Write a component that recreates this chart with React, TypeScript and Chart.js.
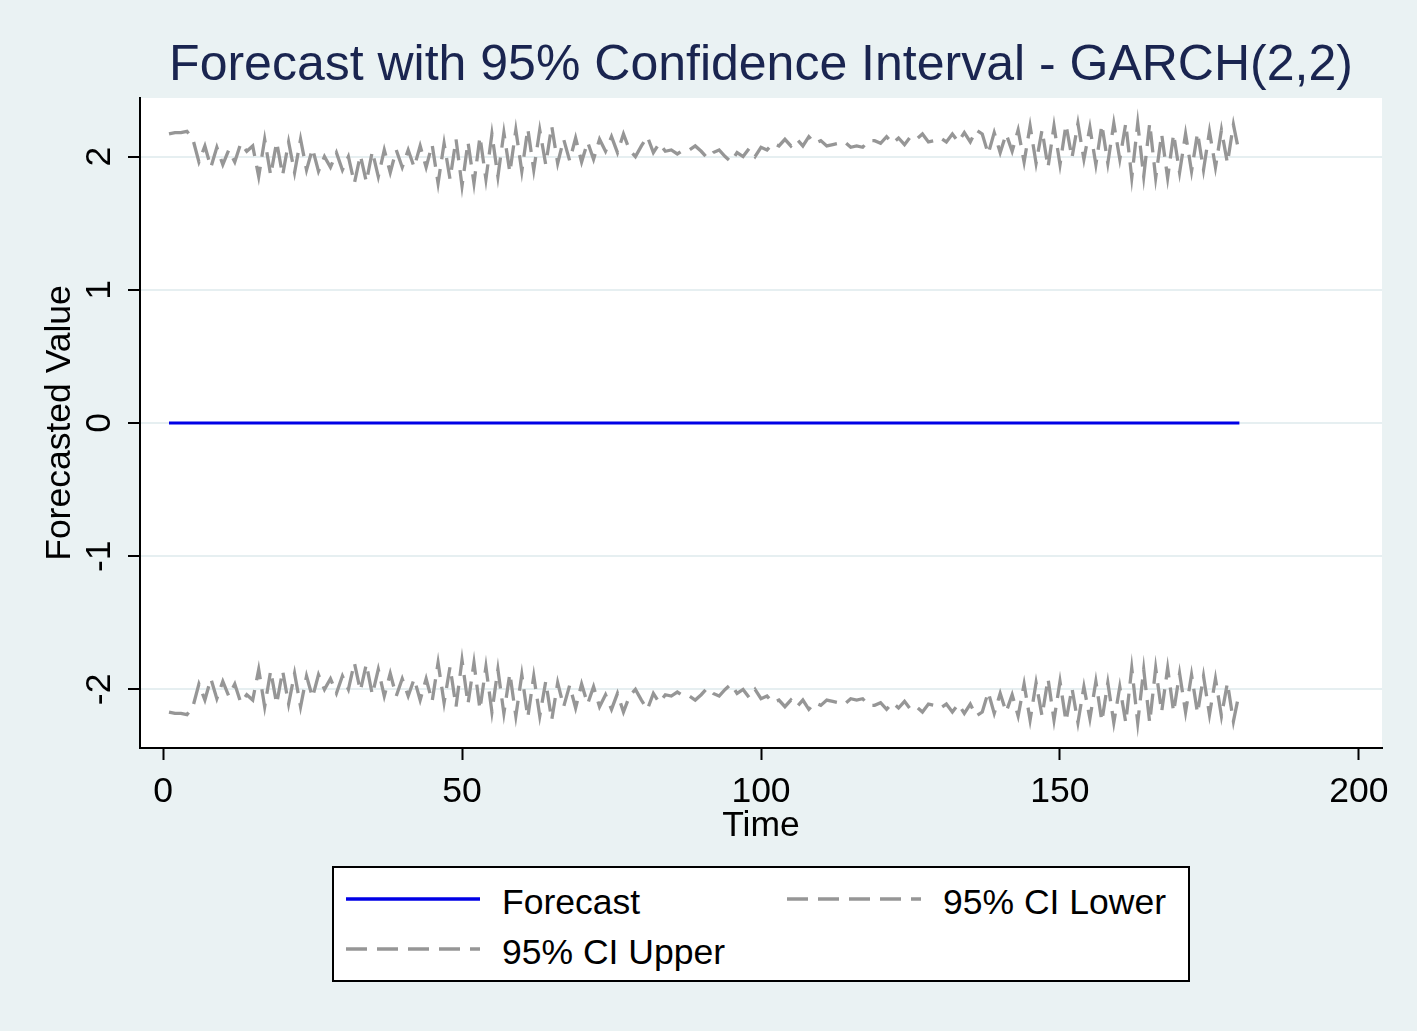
import React, { useEffect, useRef } from "react";
import { Chart, registerables } from "chart.js";

Chart.register(...registerables);

const FONT = "'Liberation Sans', Arial, Helvetica, sans-serif";
Chart.defaults.font.family = FONT;

// time index of the first forecast step
const firstStep = 1;

const forecast = [
  0, 0, 0, 0, 0, 0, 0, 0, 0, 0,
  0, 0, 0, 0, 0, 0, 0, 0, 0, 0,
  0, 0, 0, 0, 0, 0, 0, 0, 0, 0,
  0, 0, 0, 0, 0, 0, 0, 0, 0, 0,
  0, 0, 0, 0, 0, 0, 0, 0, 0, 0,
  0, 0, 0, 0, 0, 0, 0, 0, 0, 0,
  0, 0, 0, 0, 0, 0, 0, 0, 0, 0,
  0, 0, 0, 0, 0, 0, 0, 0, 0, 0,
  0, 0, 0, 0, 0, 0, 0, 0, 0, 0,
  0, 0, 0, 0, 0, 0, 0, 0, 0, 0,
  0, 0, 0, 0, 0, 0, 0, 0, 0, 0,
  0, 0, 0, 0, 0, 0, 0, 0, 0, 0,
  0, 0, 0, 0, 0, 0, 0, 0, 0, 0,
  0, 0, 0, 0, 0, 0, 0, 0, 0, 0,
  0, 0, 0, 0, 0, 0, 0, 0, 0, 0,
  0, 0, 0, 0, 0, 0, 0, 0, 0, 0,
  0, 0, 0, 0, 0, 0, 0, 0, 0, 0,
  0, 0, 0, 0, 0, 0, 0, 0, 0, 0,
];

const ciUpper = [
  2.17, 2.18, 2.18, 2.19, 2.13, 1.96, 2.08, 1.92, 2.07, 1.94,
  2.05, 1.96, 2.10, 2.04, 2.08, 1.85, 2.13, 1.86, 2.11, 1.86,
  2.11, 1.88, 2.13, 1.90, 2.06, 1.89, 2.00, 1.92, 2.03, 1.90,
  2.00, 1.80, 2.01, 1.81, 2.04, 1.85, 2.05, 1.88, 2.05, 1.92,
  2.05, 1.92, 2.08, 1.92, 2.09, 1.80, 2.10, 1.83, 2.13, 1.78,
  2.11, 1.80, 2.15, 1.83, 2.17, 1.85, 2.18, 1.88, 2.20, 1.89,
  2.21, 1.90, 2.20, 1.94, 2.23, 1.95, 2.13, 1.97, 2.14, 1.96,
  2.11, 1.98, 2.13, 2.04, 2.15, 2.03, 2.17, 2.05, 2.00, 2.08,
  2.15, 2.03, 2.10, 2.04, 2.05, 2.02, 2.05, 2.05, 2.08, 2.04,
  1.99, 2.03, 2.05, 2.00, 1.96, 2.03, 2.00, 2.06, 2.00, 2.07,
  2.05, 2.10, 2.08, 2.13, 2.08, 2.13, 2.08, 2.15, 2.10, 2.12,
  2.08, 2.09, 2.10, 2.11, 2.07, 2.08, 2.07, 2.12, 2.12, 2.10,
  2.15, 2.10, 2.14, 2.09, 2.15, 2.13, 2.17, 2.11, 2.12, 2.14,
  2.11, 2.17, 2.11, 2.18, 2.11, 2.20, 2.17, 2.02, 2.18, 2.03,
  2.17, 2.04, 2.20, 1.96, 2.23, 1.95, 2.20, 1.92, 2.23, 1.94,
  2.24, 1.99, 2.25, 1.98, 2.22, 1.94, 2.24, 1.95, 2.25, 1.98,
  2.25, 1.84, 2.25, 1.85, 2.25, 1.84, 2.17, 1.84, 2.17, 1.88,
  2.17, 1.89, 2.18, 1.90, 2.19, 1.92, 2.20, 1.95, 2.24, 2.02,
];

const ciLower = [
  -2.17, -2.18, -2.18, -2.19, -2.13, -1.96, -2.08, -1.92, -2.07, -1.94,
  -2.05, -1.96, -2.10, -2.04, -2.08, -1.85, -2.13, -1.86, -2.11, -1.86,
  -2.11, -1.88, -2.13, -1.90, -2.06, -1.89, -2.00, -1.92, -2.03, -1.90,
  -2.00, -1.80, -2.01, -1.81, -2.04, -1.85, -2.05, -1.88, -2.05, -1.92,
  -2.05, -1.92, -2.08, -1.92, -2.09, -1.80, -2.10, -1.83, -2.13, -1.78,
  -2.11, -1.80, -2.15, -1.83, -2.17, -1.85, -2.18, -1.88, -2.20, -1.89,
  -2.21, -1.90, -2.20, -1.94, -2.23, -1.95, -2.13, -1.97, -2.14, -1.96,
  -2.11, -1.98, -2.13, -2.04, -2.15, -2.03, -2.17, -2.05, -2.00, -2.08,
  -2.15, -2.03, -2.10, -2.04, -2.05, -2.02, -2.05, -2.05, -2.08, -2.04,
  -1.99, -2.03, -2.05, -2.00, -1.96, -2.03, -2.00, -2.06, -2.00, -2.07,
  -2.05, -2.10, -2.08, -2.13, -2.08, -2.13, -2.08, -2.15, -2.10, -2.12,
  -2.08, -2.09, -2.10, -2.11, -2.07, -2.08, -2.07, -2.12, -2.12, -2.10,
  -2.15, -2.10, -2.14, -2.09, -2.15, -2.13, -2.17, -2.11, -2.12, -2.14,
  -2.11, -2.17, -2.11, -2.18, -2.11, -2.20, -2.17, -2.02, -2.18, -2.03,
  -2.17, -2.04, -2.20, -1.96, -2.23, -1.95, -2.20, -1.92, -2.23, -1.94,
  -2.24, -1.99, -2.25, -1.98, -2.22, -1.94, -2.24, -1.95, -2.25, -1.98,
  -2.25, -1.84, -2.25, -1.85, -2.25, -1.84, -2.17, -1.84, -2.17, -1.88,
  -2.17, -1.89, -2.18, -1.90, -2.19, -1.92, -2.20, -1.95, -2.24, -2.02,
];

const xTickValues = [0, 50, 100, 150, 200];
const yTickValues = [-2, -1, 0, 1, 2];

const BLUE = "#0000e6";
const GRAY = "#969696";
const DASH = [21, 10];
const LABEL_SIZE = 35.5;

const plotBackground = {
  id: "plotBackground",
  beforeDraw(chart: any) {
    const { ctx, chartArea } = chart;
    ctx.save();
    ctx.fillStyle = "#ffffff";
    ctx.fillRect(chartArea.left, chartArea.top, chartArea.width, chartArea.height);
    ctx.restore();
  },
};

const legendItems = [
  { label: "Forecast", color: BLUE, dashed: false, left: 0, top: 0 },
  { label: "95% CI Lower", color: GRAY, dashed: true, left: 441, top: 0 },
  { label: "95% CI Upper", color: GRAY, dashed: true, left: 0, top: 50 },
];

const App = () => {
  const chartRef = useRef<HTMLCanvasElement | null>(null);

  useEffect(() => {
    if (!chartRef.current) return;
    const ctx = chartRef.current.getContext("2d");
    if (!ctx) return;

    const toPoints = (arr: number[]) => arr.map((v, i) => ({ x: firstStep + i, y: v }));

    const myChart = new Chart(ctx, {
      type: "line",
      data: {
        datasets: [
          {
            label: "Forecast",
            data: toPoints(forecast),
            borderColor: BLUE,
            borderWidth: 3,
            pointRadius: 0,
          },
          {
            label: "95% CI Lower",
            data: toPoints(ciLower),
            borderColor: GRAY,
            borderWidth: 3.3,
            borderDash: DASH,
            pointRadius: 0,
          },
          {
            label: "95% CI Upper",
            data: toPoints(ciUpper),
            borderColor: GRAY,
            borderWidth: 3.3,
            borderDash: DASH,
            pointRadius: 0,
          },
        ],
      },
      options: {
        responsive: false,
        animation: false,
        layout: { padding: { left: 38, right: 35, top: 0, bottom: 183 } },
        plugins: {
          legend: { display: false },
          tooltip: { enabled: false },
          title: {
            display: true,
            text: "Forecast with 95% Confidence Interval - GARCH(2,2)",
            color: "#1a2550",
            fullSize: false,
            font: { size: 50, weight: "normal", lineHeight: 1.2 },
            padding: { top: 36, bottom: 2 },
          },
        },
        scales: {
          x: {
            type: "linear",
            min: -3.85,
            max: 203.85,
            afterBuildTicks: (scale: any) => {
              scale.ticks = xTickValues.map((v) => ({ value: v }));
            },
            afterFit: (scale: any) => {
              scale.height = 100;
            },
            grid: { drawOnChartArea: false, tickColor: "#000", tickLength: 12, tickWidth: 2 },
            border: { color: "#000", width: 2 },
            ticks: { color: "#000", font: { size: LABEL_SIZE }, maxRotation: 0, autoSkip: false, padding: 11 },
            title: {
              display: true,
              text: "Time",
              color: "#000",
              font: { size: LABEL_SIZE },
              padding: { top: 0, bottom: 0 },
            },
          },
          y: {
            type: "linear",
            min: -2.44,
            max: 2.44,
            afterBuildTicks: (scale: any) => {
              scale.ticks = yTickValues.map((v) => ({ value: v }));
            },
            afterFit: (scale: any) => {
              scale.width = 102;
            },
            grid: { color: "#e6eff1", lineWidth: 2, tickColor: "#000", tickLength: 12, tickWidth: 2 },
            border: { color: "#000", width: 2 },
            ticks: {
              color: "#000",
              font: { size: LABEL_SIZE },
              minRotation: 90,
              maxRotation: 90,
              crossAlign: "center",
              padding: 12,
            },
            title: {
              display: true,
              text: "Forecasted Value",
              color: "#000",
              font: { size: LABEL_SIZE },
              padding: { top: 1, bottom: 0 },
            },
          },
        },
      },
      plugins: [plotBackground],
    } as any);

    return () => {
      myChart.destroy();
    };
  }, []);

  return (
    <div
      style={{
        position: "fixed",
        left: 0,
        top: 0,
        width: 1417,
        height: 1031,
        background: "#eaf2f3",
        fontFamily: FONT,
      }}
    >
      <canvas ref={chartRef} width={1417} height={1031} style={{ display: "block" }}></canvas>
      <div
        style={{
          position: "absolute",
          left: 332,
          top: 866,
          width: 858,
          height: 116,
          boxSizing: "border-box",
          border: "2px solid #000",
          background: "#fff",
        }}
      >
        {legendItems.map((item) => (
          <div key={item.label}>
            <svg
              width={140}
              height={10}
              style={{ position: "absolute", left: item.left + 12, top: item.top + 26 }}
            >
              <line
                x1={0}
                y1={5}
                x2={134}
                y2={5}
                stroke={item.color}
                strokeWidth={3.3}
                strokeDasharray={item.dashed ? DASH.join(" ") : undefined}
              />
            </svg>
            <div
              style={{
                position: "absolute",
                left: item.left + 168,
                top: item.top + 13,
                fontSize: LABEL_SIZE,
                lineHeight: "42px",
                color: "#000",
                whiteSpace: "nowrap",
              }}
            >
              {item.label}
            </div>
          </div>
        ))}
      </div>
    </div>
  );
};

export default App;
